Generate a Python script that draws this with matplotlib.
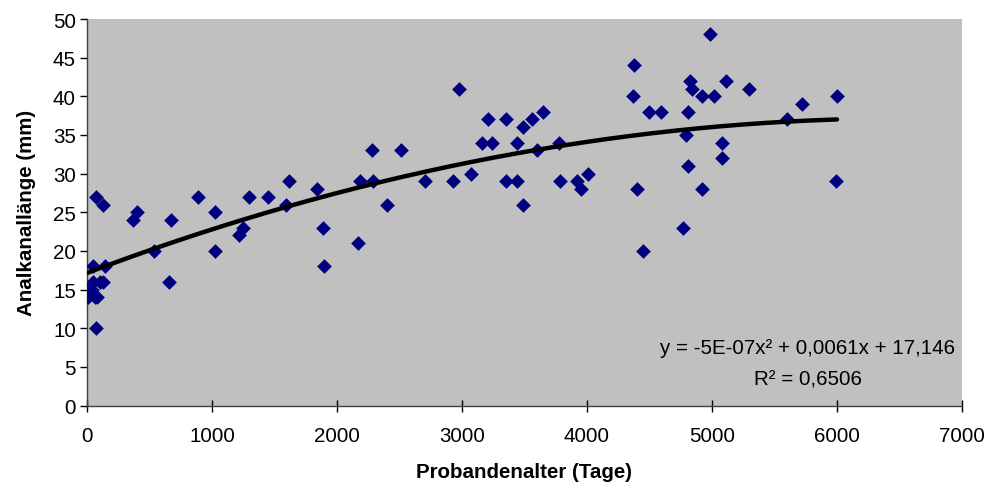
import matplotlib
matplotlib.use("Agg")
import matplotlib.pyplot as plt
import numpy as np

plt.rcParams['font.family'] = ['Liberation Sans', 'DejaVu Sans']

# Data: age (days) vs anal canal length (mm)
age_days = [0, 10, 40, 50, 60, 80, 100, 45, 72, 125, 144, 125, 72,
            371, 397, 536, 659, 672, 891, 1024, 1024, 1219, 1251, 1299,
            1451, 1592, 1619, 1837, 1891, 1896, 2171, 2184, 2277, 2291,
            2403, 2509, 2704, 2931, 2979, 3069, 3157, 3205, 3237, 3349,
            3349, 3437, 3443, 3491, 3491, 3563, 3603, 3651, 3779, 3784,
            3917, 3949, 4011, 4365, 4376, 4403, 4451, 4499, 4592, 4771,
            4792, 4811, 4811, 4824, 4837, 4917, 4917, 4984, 5019, 5083,
            5083, 5112, 5299, 5597, 5723, 5989, 5997]
length_mm = [15, 14, 15, 16, 14, 14, 16, 18, 27, 26, 18, 16, 10,
             24, 25, 20, 16, 24, 27, 25, 20, 22, 23, 27,
             27, 26, 29, 28, 23, 18, 21, 29, 33, 29,
             26, 33, 29, 29, 41, 30, 34, 37, 34, 37,
             29, 29, 34, 36, 26, 37, 33, 38, 34, 29,
             29, 28, 30, 40, 44, 28, 20, 38, 38, 23,
             35, 38, 31, 42, 41, 40, 28, 48, 40, 34,
             32, 42, 41, 37, 39, 29, 40]

# Polynomial trendline coefficients (quadratic)
trend_coef = [-4.65e-7, 0.0061, 17.146]
trend_range = [0, 6000]

x_ticks = [0, 1000, 2000, 3000, 4000, 5000, 6000, 7000]
y_ticks = [0, 5, 10, 15, 20, 25, 30, 35, 40, 45, 50]

equation_text = "y = -5E-07x² + 0,0061x + 17,146"
r2_text = "R² = 0,6506"

fs = 14.8

fig = plt.figure(figsize=(9.86, 4.89), dpi=100)
ax = fig.add_axes([87/986, 1-406.5/489, 875/986, 386.5/489])
ax.set_facecolor('#C0C0C0')

ax.scatter(age_days, length_mm, marker='D', s=7.5**2, color='#000080',
           linewidths=0, zorder=3)

xs = np.linspace(trend_range[0], trend_range[1], 200)
ax.plot(xs, np.polyval(trend_coef, xs), color='black', lw=3.2, zorder=4,
        solid_capstyle='round')

ax.set_xlim(0, 7000)
ax.set_ylim(0, 50)
ax.set_xticks(x_ticks)
ax.set_yticks(y_ticks)
ax.tick_params(axis='x', direction='inout', length=8, width=1, labelsize=fs, pad=11)
ax.tick_params(axis='y', direction='out', length=5, width=1, labelsize=fs, pad=3)

for s in ['top', 'right']:
    ax.spines[s].set_visible(False)
for s in ['left', 'bottom']:
    ax.spines[s].set_color('#404040')
    ax.spines[s].set_linewidth(1)

ax.set_xlabel('Probandenalter (Tage)', fontsize=fs, fontweight='bold', labelpad=12)
ax.set_ylabel('Analkanallänge (mm)', fontsize=fs, fontweight='bold', labelpad=12)

fig.text(808/986, 1-349/489, equation_text, ha='center', va='center', fontsize=fs)
fig.text(808/986, 1-380/489, r2_text, ha='center', va='center', fontsize=fs)

fig.savefig('out.png', dpi=100)
